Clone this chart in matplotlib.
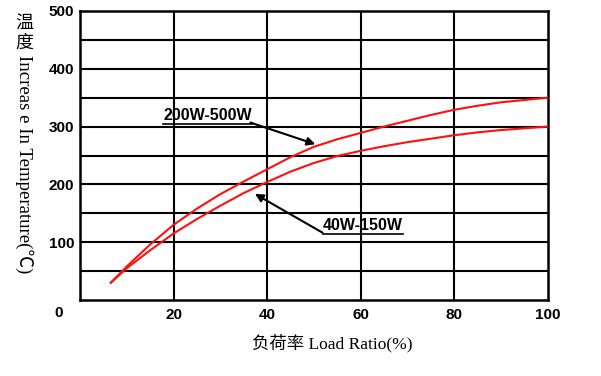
import numpy as np
import matplotlib.pyplot as plt
from matplotlib.lines import Line2D

# data
load = [6.6, 10, 15, 20, 25, 30, 35, 40, 45, 50, 55, 60, 65, 70, 75, 80, 85, 90, 95, 100]
rise_200_500 = [30, 58, 96, 130, 158, 183, 205, 226, 247, 265, 278, 289, 300, 310, 320, 329, 336, 342, 346, 350]
rise_40_150 = [30, 55, 86, 115, 140, 163, 185, 204, 222, 237, 249, 258, 266, 273, 279, 285, 290, 294, 297, 300]

x_ticks = [20, 40, 60, 80, 100]
y_ticks = [100, 200, 300, 400, 500]
y_grid = [50, 100, 150, 200, 250, 300, 350, 400, 450]

fig = plt.figure(figsize=(6.01, 3.76), dpi=100)
ax = fig.add_axes([80 / 601, 76 / 376, 467.5 / 601, 289 / 376])
ax.set_xlim(0, 100)
ax.set_ylim(0, 500)

for y in y_grid:
    ax.axhline(y, color="black", lw=1.5, zorder=1)
for x in x_ticks[:-1]:
    ax.axvline(x, color="black", lw=1.5, zorder=1)
for s in ax.spines.values():
    s.set_linewidth(1.8)

ax.plot(load, rise_200_500, color="#ff1010", lw=1.5, zorder=3)
ax.plot(load, rise_40_150, color="#ff1010", lw=1.5, zorder=3)

tick_font = dict(family="Liberation Sans", weight="bold", size=11)
ax.set_xticks(x_ticks)
ax.set_xticklabels([str(v) for v in x_ticks], fontdict=tick_font)
ax.set_yticks(y_ticks)
ax.set_yticklabels([str(v) for v in y_ticks], fontdict=tick_font)
ax.tick_params(length=0, pad=4)
ax.tick_params(axis="x", pad=6)
ax.text(-4.5, -22, "0", ha="center", va="center", clip_on=False, **tick_font)

# axis titles
lab_font = ["Liberation Serif", "Noto Sans CJK SC"]
ax.text(0.54, -0.149, "负荷率 Load Ratio(%)", transform=ax.transAxes, ha="center",
        va="center", family=lab_font, size=12.5)
fig.text(24 / 601, 1 - 23 / 376, "温", ha="center", va="center", family=lab_font, size=13)
fig.text(24 / 601, 1 - 43 / 376, "度", ha="center", va="center", family=lab_font, size=13)
fig.text(24 / 601, 1 - 55 / 376, "Increas e In Temperature(℃)", rotation=-90,
         ha="center", va="top", family=lab_font, size=13.5)

# labels with arrows
lbl_font = dict(family="Liberation Sans", weight="bold", size=11.5)
t1 = ax.text(27.3, 320, "200W-500W", ha="center", va="center", **lbl_font)
t2 = ax.text(60.5, 129, "40W-150W", ha="center", va="center", **lbl_font)
ax.annotate("", xy=(50.9, 268), xytext=(35.9, 308.5),
            arrowprops=dict(arrowstyle="-|>", color="black", lw=1.5, mutation_scale=12))
ax.annotate("", xy=(36.9, 186), xytext=(52.4, 114),
            arrowprops=dict(arrowstyle="-|>", color="black", lw=1.5, mutation_scale=12))

fig.canvas.draw()
inv = fig.transFigure.inverted()
for t in (t1, t2):
    bb = t.get_window_extent()
    (x0, y0), (x1, _) = inv.transform([(bb.x0, bb.y0 - 1), (bb.x1, bb.y0 - 1)])
    fig.add_artist(Line2D([x0, x1], [y0, y0], color="black", lw=1.2))

fig.savefig("out.png", dpi=100)
